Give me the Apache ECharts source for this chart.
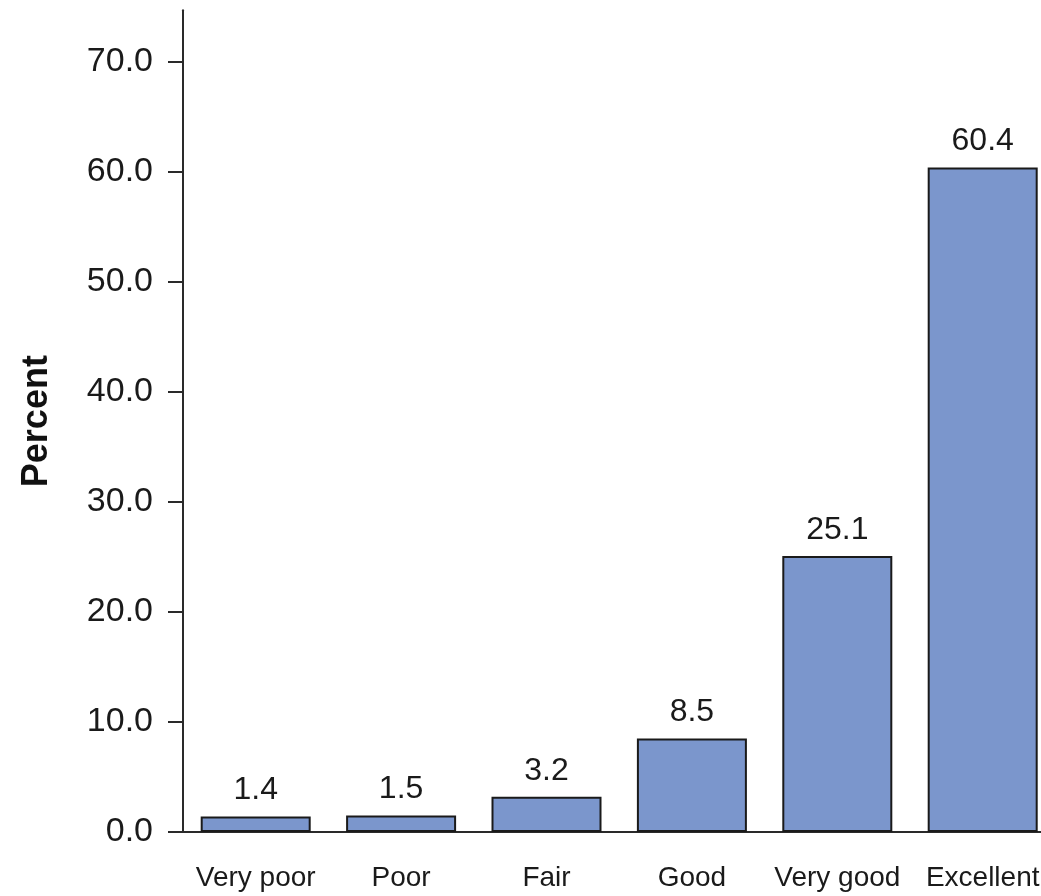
<!DOCTYPE html>
<html>
<head>
<meta charset="utf-8">
<script src="https://cdn.jsdelivr.net/npm/echarts@6/dist/echarts.min.js"></script>
<style>html,body{margin:0;padding:0;background:#fff;overflow:hidden;width:1041px;height:896px;}#c{width:1060px;height:896px;}</style>
</head>
<body>
<div id="c"></div>
<script>
const categories = ["Very poor", "Poor", "Fair", "Good", "Very good", "Excellent"];
const percentValues = [1.4, 1.5, 3.2, 8.5, 25.1, 60.4];
const yTickValues = [0, 10, 20, 30, 40, 50, 60, 70];
const yAxisTitle = "Percent";

const chart = echarts.init(document.getElementById('c'), null, {renderer: 'canvas'});
const font = '"Liberation Sans", Arial, sans-serif';
chart.setOption({
  animation: false,
  backgroundColor: '#ffffff',
  grid: {left: 183, right: 4.6, top: 10.3, bottom: 64, containLabel: false},
  xAxis: {
    type: 'category',
    data: categories,
    boundaryGap: true,
    axisLine: {show: true, lineStyle: {color: '#2a2a2a', width: 2}},
    axisTick: {show: false},
    axisLabel: {color: '#1a1a1a', fontFamily: font, fontSize: 28, margin: 32, interval: 0}
  },
  yAxis: {
    type: 'value',
    min: 0,
    max: 74.7,
    interval: 10,
    name: yAxisTitle,
    nameLocation: 'middle',
    nameGap: 128,
    nameRotate: 90,
    nameTextStyle: {color: '#111', fontFamily: font, fontSize: 36, fontWeight: 'bold'},
    splitLine: {show: false},
    axisLine: {show: true, lineStyle: {color: '#2a2a2a', width: 2}},
    axisTick: {show: true, inside: false, length: 15, lineStyle: {color: '#2a2a2a', width: 2}, customValues: yTickValues},
    axisLabel: {color: '#1a1a1a', fontFamily: font, fontSize: 34, margin: 30,
      customValues: yTickValues,
      formatter: v => v.toFixed(1)}
  },
  series: [{
    type: 'bar',
    data: percentValues,
    barWidth: 110,
    itemStyle: {color: '#7b96cc', borderColor: '#1a1a1a', borderWidth: 2},
    label: {show: true, position: 'top', distance: 10, color: '#1a1a1a', fontFamily: font, fontSize: 32,
      formatter: p => p.value.toFixed(1)}
  }]
});
</script>
</body>
</html>
